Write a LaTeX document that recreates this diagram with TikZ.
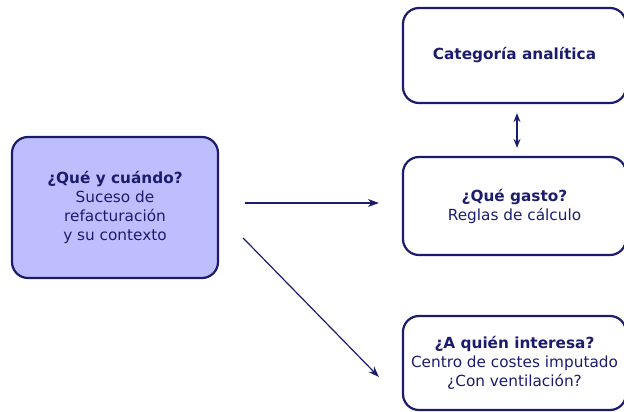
\documentclass[tikz,border=0pt]{standalone}
\usepackage{fontspec}
\setmainfont{DejaVu Sans}
\usetikzlibrary{arrows.meta}
\definecolor{marine}{RGB}{28,28,110}
\definecolor{lavande}{RGB}{190,190,255}

\begin{document}
\begin{tikzpicture}[x=1pt,y=1pt,
  boite/.style={draw=marine, line width=2.2pt, rounded corners=16pt, align=center,
    text=marine, font=\fontsize{15.3}{19}\selectfont},
  fleche/.style={draw=marine, line width=1.2pt, -{Stealth[length=11pt,width=8pt]}}]
\useasboundingbox (0,0) rectangle (624,412);
\node[boite, fill=lavande, minimum width=206pt, minimum height=141pt] (quoi) at (115,204.5)
  {\textbf{¿Qué y cuándo?}\\Suceso de\\refacturación\\ y su contexto};
\node[boite, minimum width=223pt, minimum height=95pt] (categorie) at (514.5,356.5)
  {\textbf{Categoría analítica}};
\node[boite, minimum width=223pt, minimum height=98pt] (gasto) at (514.5,206)
  {\textbf{¿Qué gasto?}\\Reglas de cálculo};
\node[boite, minimum width=223pt, minimum height=94pt] (interesa) at (514.5,49)
  {\textbf{¿A quién interesa?}\\Centro de costes imputado\\¿Con ventilación?};

\draw[fleche] ([xshift=26pt,yshift=4.5pt]quoi.east) -- ([xshift=-23pt,yshift=3pt]gasto.west);
\draw[fleche] ([xshift=24pt,yshift=-30.5pt]quoi.east) -- ([xshift=-23pt,yshift=-14pt]interesa.west);
\draw[fleche, {Stealth[length=9pt,width=7pt]}-{Stealth[length=9pt,width=7pt]}]
  ([xshift=2.5pt,yshift=-9pt]categorie.south) -- ([xshift=2.5pt,yshift=8pt]gasto.north);
\end{tikzpicture}
\end{document}
